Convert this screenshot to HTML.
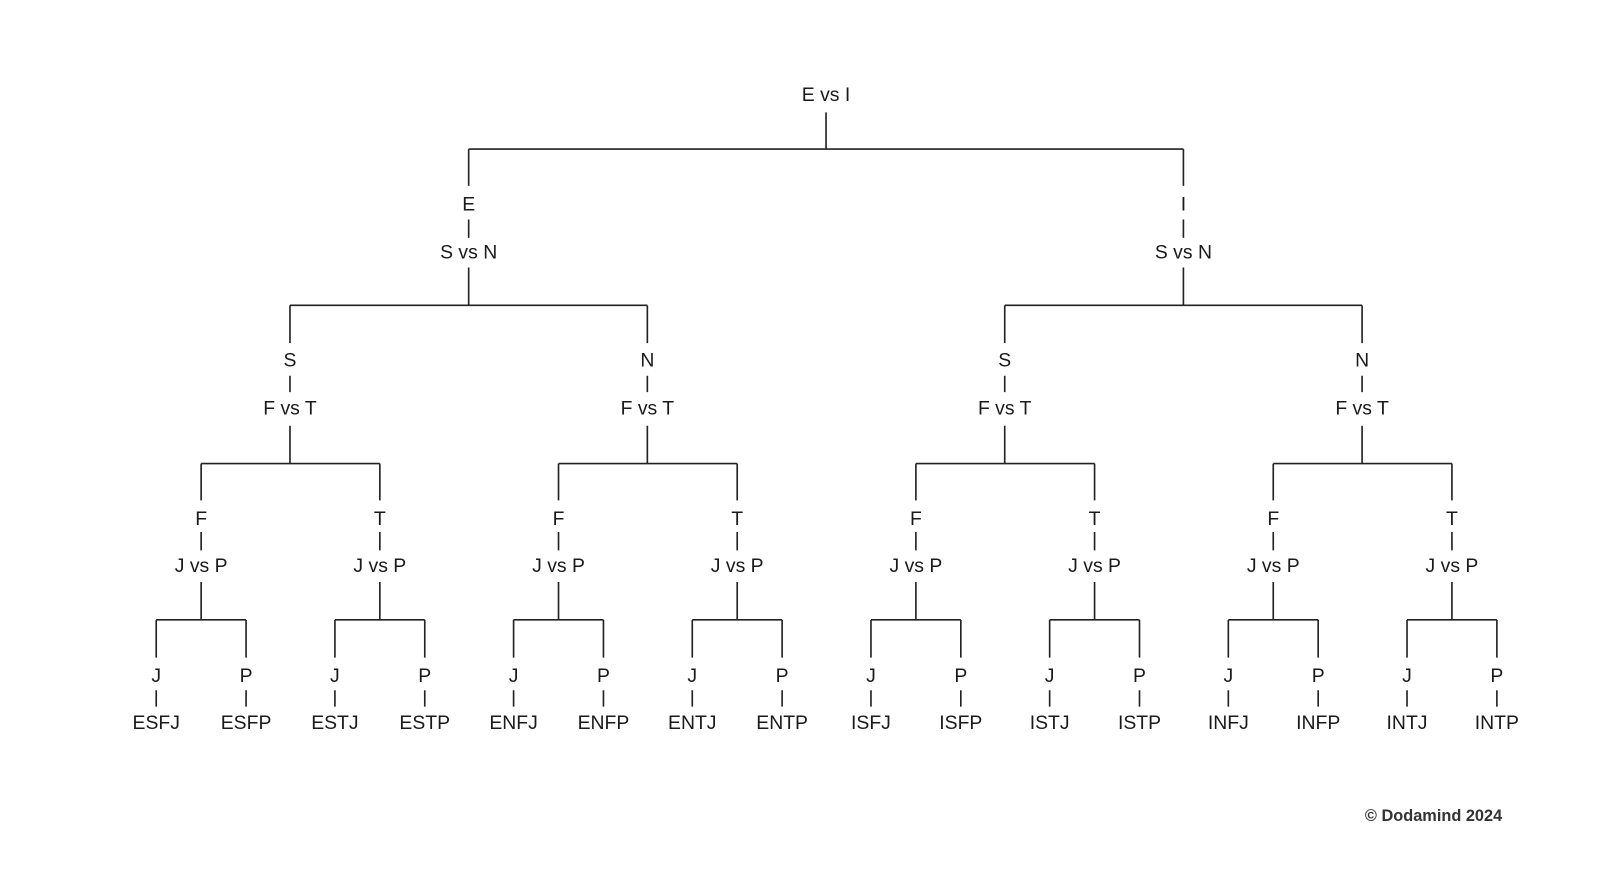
<!DOCTYPE html>
<html><head><meta charset="utf-8"><style>
html,body{margin:0;padding:0;background:#fff;}
svg{display:block}
text{font-family:"Liberation Sans",sans-serif;font-size:19px;fill:#1a1a1a;text-anchor:middle}
path{stroke:#222;stroke-width:1.6;fill:none}
</style></head><body>
<svg width="1600" height="870" viewBox="0 0 1567 852" preserveAspectRatio="none">
<!-- root -->
<text x="809" y="99">E vs I</text>
<path d="M809 110V146M459 146H1159"/>
<!-- level1 -->
<path d="M459 146V182M459 215V233M459 262V299M284 299H634 M1159 146V182M1159 215V233M1159 262V299M984 299H1334"/>
<text x="459" y="206">E</text><text x="459" y="253">S vs N</text>
<text x="1159" y="206">I</text><text x="1159" y="253">S vs N</text>
<!-- level2 -->
<path d="M284 299V336M284 368V384M284 417V454M197 454H372
M634 299V336M634 368V384M634 417V454M547 454H722
M984 299V336M984 368V384M984 417V454M897 454H1072
M1334 299V336M1334 368V384M1334 417V454M1247 454H1422"/>
<text x="284" y="359">S</text><text x="284" y="406">F vs T</text>
<text x="634" y="359">N</text><text x="634" y="406">F vs T</text>
<text x="984" y="359">S</text><text x="984" y="406">F vs T</text>
<text x="1334" y="359">N</text><text x="1334" y="406">F vs T</text>
<!-- level3 -->
<path d="M197 454V490M197 521V539M197 570V607M153 607H241
M372 454V490M372 521V539M372 570V607M328 607H416
M547 454V490M547 521V539M547 570V607M503 607H591
M722 454V490M722 521V539M722 570V607M678 607H766
M897 454V490M897 521V539M897 570V607M853 607H941
M1072 454V490M1072 521V539M1072 570V607M1028 607H1116
M1247 454V490M1247 521V539M1247 570V607M1203 607H1291
M1422 454V490M1422 521V539M1422 570V607M1378 607H1466"/>
<text x="197" y="514">F</text><text x="197" y="560">J vs P</text>
<text x="372" y="514">T</text><text x="372" y="560">J vs P</text>
<text x="547" y="514">F</text><text x="547" y="560">J vs P</text>
<text x="722" y="514">T</text><text x="722" y="560">J vs P</text>
<text x="897" y="514">F</text><text x="897" y="560">J vs P</text>
<text x="1072" y="514">T</text><text x="1072" y="560">J vs P</text>
<text x="1247" y="514">F</text><text x="1247" y="560">J vs P</text>
<text x="1422" y="514">T</text><text x="1422" y="560">J vs P</text>
<!-- level4 -->
<path d="M153 607V644M153 676V692M241 607V644M241 676V692
M328 607V644M328 676V692M416 607V644M416 676V692
M503 607V644M503 676V692M591 607V644M591 676V692
M678 607V644M678 676V692M766 607V644M766 676V692
M853 607V644M853 676V692M941 607V644M941 676V692
M1028 607V644M1028 676V692M1116 607V644M1116 676V692
M1203 607V644M1203 676V692M1291 607V644M1291 676V692
M1378 607V644M1378 676V692M1466 607V644M1466 676V692"/>
<text x="153" y="668">J</text><text x="153" y="714">ESFJ</text>
<text x="241" y="668">P</text><text x="241" y="714">ESFP</text>
<text x="328" y="668">J</text><text x="328" y="714">ESTJ</text>
<text x="416" y="668">P</text><text x="416" y="714">ESTP</text>
<text x="503" y="668">J</text><text x="503" y="714">ENFJ</text>
<text x="591" y="668">P</text><text x="591" y="714">ENFP</text>
<text x="678" y="668">J</text><text x="678" y="714">ENTJ</text>
<text x="766" y="668">P</text><text x="766" y="714">ENTP</text>
<text x="853" y="668">J</text><text x="853" y="714">ISFJ</text>
<text x="941" y="668">P</text><text x="941" y="714">ISFP</text>
<text x="1028" y="668">J</text><text x="1028" y="714">ISTJ</text>
<text x="1116" y="668">P</text><text x="1116" y="714">ISTP</text>
<text x="1203" y="668">J</text><text x="1203" y="714">INFJ</text>
<text x="1291" y="668">P</text><text x="1291" y="714">INFP</text>
<text x="1378" y="668">J</text><text x="1378" y="714">INTJ</text>
<text x="1466" y="668">P</text><text x="1466" y="714">INTP</text>
<text x="1404" y="804" style="font-size:16px;font-weight:bold;fill:#333">© Dodamind 2024</text>
</svg>
</body></html>
